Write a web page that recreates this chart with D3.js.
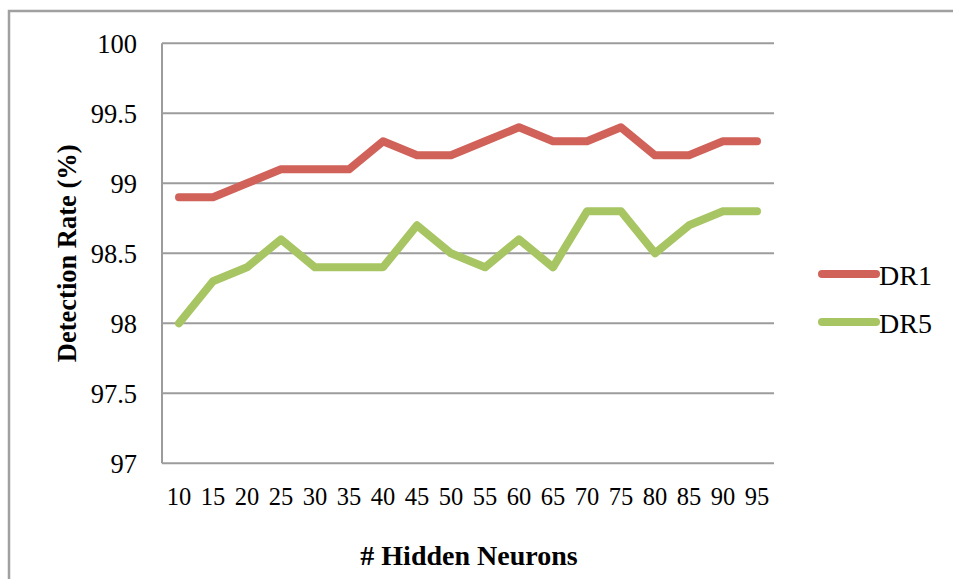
<!DOCTYPE html>
<html>
<head>
<meta charset="utf-8">
<script src="https://cdn.jsdelivr.net/npm/d3@7"></script>
<style>
  html, body { margin: 0; padding: 0; background: #fff; }
  svg { display: block; }
</style>
</head>
<body>
<script>
const categories = ["10","15","20","25","30","35","40","45","50","55","60","65","70","75","80","85","90","95"];
const dr1 = [98.9, 98.9, 99.0, 99.1, 99.1, 99.1, 99.3, 99.2, 99.2, 99.3, 99.4, 99.3, 99.3, 99.4, 99.2, 99.2, 99.3, 99.3];
const dr5 = [98.0, 98.3, 98.4, 98.6, 98.4, 98.4, 98.4, 98.7, 98.5, 98.4, 98.6, 98.4, 98.8, 98.8, 98.5, 98.7, 98.8, 98.8];
const yTicks = [97, 97.5, 98, 98.5, 99, 99.5, 100];
const seriesNames = ["DR1", "DR5"];
const seriesColors = ["#D0625A", "#A7C563"];
const xTitle = "# Hidden Neurons";
const yTitle = "Detection Rate (%)";

const W = 953, H = 579;
const plot = { left: 162, right: 774, top: 43.3, bottom: 463.3 };
const font = "'Liberation Serif', 'DejaVu Serif', serif";

const svg = d3.select("body").append("svg").attr("width", W).attr("height", H);

// outer frame
svg.append("rect")
  .attr("x", 9).attr("y", 11).attr("width", W + 20).attr("height", H + 20)
  .attr("fill", "none").attr("stroke", "#a0a0a0").attr("stroke-width", 2.5);

const x = d3.scaleBand().domain(categories).range([plot.left, plot.right]);
const y = d3.scaleLinear().domain([97, 100]).range([plot.bottom, plot.top]);

// gridlines
svg.append("g").selectAll("line").data(yTicks).join("line")
  .attr("x1", plot.left).attr("x2", plot.right)
  .attr("y1", d => y(d)).attr("y2", d => y(d))
  .attr("stroke", "#9c9c9c").attr("stroke-width", 2);

// y axis line
svg.append("line")
  .attr("x1", plot.left).attr("x2", plot.left)
  .attr("y1", plot.top).attr("y2", plot.bottom)
  .attr("stroke", "#9c9c9c").attr("stroke-width", 2);

// y axis labels
const yAxis = d3.axisLeft(y).tickValues(yTicks).tickSize(0).tickPadding(0)
  .tickFormat(d => String(d));
const yg = svg.append("g").attr("transform", `translate(${plot.left - 25},0)`).call(yAxis);
yg.select(".domain").remove();
yg.selectAll("text").attr("font-family", font).attr("font-size", 26.5).attr("fill", "#000")
  .attr("dy", "0.33em");

// x axis labels
const xAxis = d3.axisBottom(x).tickSize(0).tickPadding(0);
const xg = svg.append("g").attr("transform", `translate(0,${plot.bottom + 33.5})`).call(xAxis);
xg.select(".domain").remove();
xg.selectAll("text").attr("font-family", font).attr("font-size", 24.5).attr("fill", "#000")
  .attr("dy", "0.35em").attr("y", 0);

// titles
svg.append("text")
  .attr("x", (plot.left + plot.right) / 2 + 1).attr("y", 555)
  .attr("text-anchor", "middle").attr("dominant-baseline", "central")
  .attr("font-family", font).attr("font-weight", "bold").attr("font-size", 28)
  .text(xTitle);

svg.append("text")
  .attr("transform", `translate(67,${(plot.top + plot.bottom) / 2}) rotate(-90)`)
  .attr("text-anchor", "middle").attr("dominant-baseline", "central")
  .attr("font-family", font).attr("font-weight", "bold").attr("font-size", 26.5)
  .text(yTitle);

// lines
const line = d3.line().x((d, i) => x(categories[i]) + x.bandwidth() / 2).y(d => y(d));
[dr1, dr5].forEach((s, i) => {
  svg.append("path").datum(s)
    .attr("d", line)
    .attr("fill", "none").attr("stroke", seriesColors[i]).attr("stroke-width", 8)
    .attr("stroke-linejoin", "round").attr("stroke-linecap", "round");
});

// legend
const legY = [274, 322];
seriesNames.forEach((n, i) => {
  svg.append("line")
    .attr("x1", 822).attr("x2", 876).attr("y1", legY[i]).attr("y2", legY[i])
    .attr("stroke", seriesColors[i]).attr("stroke-width", 8).attr("stroke-linecap", "round");
  svg.append("text")
    .attr("x", 879).attr("y", legY[i] + 1)
    .attr("dominant-baseline", "central")
    .attr("font-family", font).attr("font-size", 28).attr("fill", "#000")
    .text(n);
});
</script>
</body>
</html>
